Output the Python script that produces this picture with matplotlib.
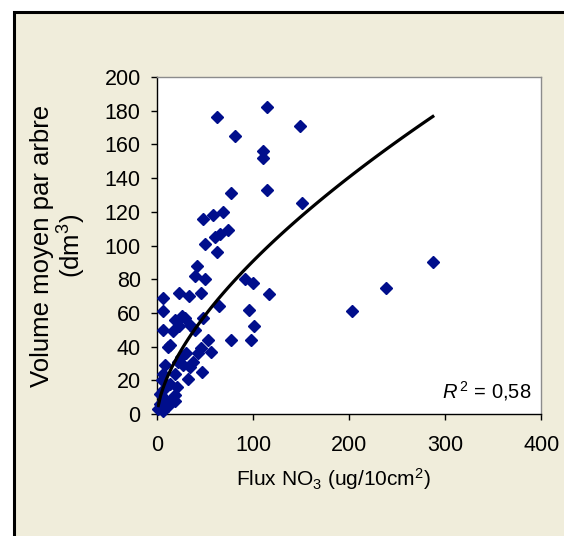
import matplotlib

matplotlib.use("Agg")

import matplotlib.pyplot as plt
import numpy as np
from matplotlib.patches import Rectangle

# values
flux_no3 = [62, 114, 149, 81, 110, 110, 77, 114, 151, 48,
            58, 68, 74, 65, 60, 50, 62, 41, 39, 50,
            91, 100, 116, 6, 23, 33, 46, 64, 95, 6,
            101, 77, 98, 6, 18, 29, 48, 23, 16, 34,
            39, 53, 13, 46, 11, 30, 42, 56, 22, 34,
            47, 8, 6, 18, 32, 13, 6, 18, 3, 11,
            18, 1, 6, 203, 238, 287, 20, 37, 27, 25,
            5, 3, 8, 13, 26]
volume = [176, 182, 171, 165, 156, 152, 131, 133, 125, 116,
          118, 120, 109, 107, 105, 101, 96, 88, 82, 80,
          80, 78, 71, 69, 72, 70, 72, 64, 62, 61,
          52, 44, 44, 50, 56, 57, 57, 52, 49, 53,
          50, 44, 41, 39, 40, 36, 36, 37, 31, 28,
          25, 29, 24, 24, 21, 18, 14, 11, 6, 5,
          8, 3, 2, 61, 75, 90, 16, 31, 29, 34,
          20, 12, 9, 8, 58]

x_ticks = [0, 100, 200, 300, 400]
y_ticks = [0, 20, 40, 60, 80, 100, 120, 140, 160, 180, 200]
r2_label = r"$R^{\,2}$ = 0,58"

plt.rcParams["font.family"] = "Liberation Sans"
plt.rcParams["mathtext.fontset"] = "custom"
plt.rcParams["mathtext.rm"] = "Liberation Sans"
plt.rcParams["mathtext.it"] = "Liberation Sans:italic"

BEIGE = "#F0EDDB"
NAVY = "#000E8C"

fig = plt.figure(figsize=(5.64, 5.36), dpi=100, facecolor="white")
# chart-area frame: only its top and left edges fall inside the picture
fig.patches.append(Rectangle((13.5 / 564, -0.1), 1.2, 1.0767,
                             transform=fig.transFigure, facecolor=BEIGE,
                             edgecolor="black", linewidth=2.2, zorder=-1))

ax = fig.add_axes([157.3 / 564, 122 / 536, 384 / 564, 337 / 536])
ax.set_facecolor("white")

x = np.array(flux_no3, dtype=float)
y = np.array(volume, dtype=float)
ax.plot(x, y, ls="none", marker="D", ms=6.2, color=NAVY, clip_on=False, zorder=3)

# power trendline, fitted like Excel does (least squares in log space)
b, log_a = np.polyfit(np.log(x), np.log(y), 1)
xf = np.linspace(x.min(), x.max(), 120)
ax.plot(xf, np.exp(log_a) * xf ** b, color="black", lw=2.3, zorder=4)

ax.set_xlim(0, 400)
ax.set_ylim(0, 200)
ax.set_xticks(x_ticks)
ax.set_yticks(y_ticks)

for side in ("left", "bottom"):
    ax.spines[side].set_color("black")
    ax.spines[side].set_linewidth(1.0)
for side in ("top", "right"):
    ax.spines[side].set_color("#8c8c8c")
    ax.spines[side].set_linewidth(1.0)

ax.tick_params(direction="out", length=4, width=1, labelsize=15.5)
ax.tick_params(axis="y", pad=8)
ax.tick_params(axis="x", pad=11)

ax.text(0.975, 0.047, r2_label, transform=ax.transAxes, ha="right",
        va="baseline", fontsize=14.5)

ax.set_xlabel("Flux NO$_3$ (ug/10cm$^2$)", fontsize=15)
ax.xaxis.set_label_coords(0.4575, -0.155)
ax.xaxis.label.set_va("top")

ax.set_ylabel("Volume moyen par arbre\n(dm$^3$)", fontsize=18.5, linespacing=1.1)
ax.yaxis.set_label_coords(-0.256, 0.5)
ax.yaxis.label.set_va("center")

fig.savefig("out.png", dpi=100, facecolor=fig.get_facecolor())
